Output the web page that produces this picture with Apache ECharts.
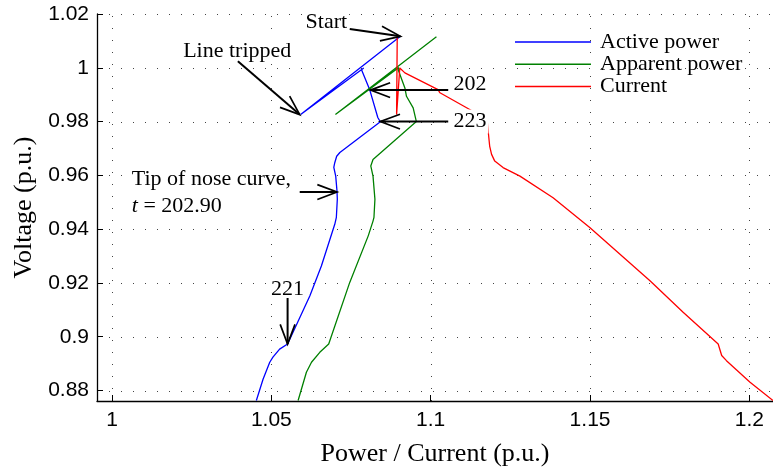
<!DOCTYPE html>
<html>
<head>
<meta charset="utf-8">
<script src="https://cdn.jsdelivr.net/npm/echarts@6/dist/echarts.min.js"></script>
<style>
html,body{margin:0;padding:0;background:#fff;}
#chart{width:773px;height:472px;}
</style>
</head>
<body>
<div id="chart"></div>
<script>
// ---- data ----
const seriesNames = ['Active power', 'Apparent power', 'Current'];

const activeX = [1.0905, 1.0592, 1.0790, 1.0783, 1.0809, 1.0834, 1.0842, 1.0715, 1.0705, 1.0699, 1.0696, 1.0702, 1.0706, 1.0707, 1.0704, 1.0699, 1.0657, 1.0621, 1.0551, 1.0526, 1.0505, 1.0495, 1.0474, 1.0453];
const activeY = [1.0117, 0.9826, 0.9999, 0.9993, 0.9917, 0.9815, 0.9799, 0.9685, 0.9671, 0.9647, 0.9630, 0.9597, 0.9542, 0.9511, 0.9444, 0.9418, 0.9263, 0.9152, 0.8973, 0.8954, 0.8924, 0.8905, 0.8842, 0.8763];

const apparentX = [1.1018, 1.0701, 1.0900, 1.0898, 1.0919, 1.0924, 1.0945, 1.0955, 1.0819, 1.0812, 1.0819, 1.0825, 1.0822, 1.0819, 1.0804, 1.0746, 1.0680, 1.0652, 1.0626, 1.0610, 1.0584];
const apparentY = [1.0115, 0.9826, 1.0001, 0.9993, 0.9925, 0.9894, 0.9851, 0.9800, 0.9659, 0.9635, 0.9597, 0.9511, 0.9444, 0.9430, 0.9375, 0.9202, 0.8973, 0.8942, 0.8905, 0.8868, 0.8763];

const currentX = [1.0895, 1.0893, 1.0903, 1.0919, 1.1023, 1.1029, 1.1128, 1.1177, 1.1185, 1.1191, 1.1201, 1.1227, 1.1280, 1.1384, 1.1499, 1.1688, 1.1792, 1.1902, 1.1913, 1.1928, 1.2002, 1.2074];
const currentY = [1.0116, 0.9826, 0.9999, 0.9981, 0.9919, 0.9907, 0.9841, 0.9805, 0.9709, 0.9678, 0.9653, 0.9629, 0.9597, 0.9517, 0.9406, 0.9208, 0.9091, 0.8973, 0.8930, 0.8911, 0.8831, 0.8763];

// annotation arrows: [fromX, fromY, toX, toY]
const arrows = [
  [1.0746, 1.0144, 1.0905, 1.0117],  // Start
  [1.0395, 1.0024, 1.0589, 0.9826],  // Line tripped
  [1.1055, 0.9917, 1.0811, 0.9917],  // 202
  [1.1055, 0.9800, 1.0842, 0.9800],  // 223
  [1.0589, 0.9538, 1.0706, 0.9538],  // tip of nose
  [1.0551, 0.9144, 1.0551, 0.8973]   // 221
];

// annotation labels
const labelText  = ['Start', 'Line tripped', '202', '223', 'Tip of nose curve,', '{i|t} = 202.90', '221'];
const labelX     = [1.0744, 1.0393, 1.1065, 1.1065, 1.0056, 1.0056, 1.0551];
const labelY     = [1.0171, 1.0061, 0.9938, 0.9800, 0.9585, 0.9486, 0.9177];
const labelAlign = ['right', 'center', 'left', 'left', 'left', 'left', 'center'];

const xTicks = [1, 1.05, 1.1, 1.15, 1.2];
const yTicks = [0.88, 0.9, 0.92, 0.94, 0.96, 0.98, 1, 1.02];
const xLabels = ['1', '1.05', '1.1', '1.15', '1.2'];
const yLabels = ['0.88', '0.9', '0.92', '0.94', '0.96', '0.98', '1', '1.02'];

const X_MIN = 0.9953, X_MAX = 1.2074, Y_MIN = 0.8761, Y_MAX = 1.02;

// ---- chart ----
const zip = (xs, ys) => xs.map((x, i) => [x, ys[i]]);
const SERIF = '"Liberation Serif", "Times New Roman", serif';
const SANS = '"Liberation Sans", Arial, sans-serif';

function renderArrow(params, api) {
  const p1 = api.coord([api.value(0), api.value(1)]);
  const p2 = api.coord([api.value(2), api.value(3)]);
  const ang = Math.atan2(p2[1] - p1[1], p2[0] - p1[0]);
  const L = 21, a = 0.36;
  const w1 = [p2[0] - L * Math.cos(ang - a), p2[1] - L * Math.sin(ang - a)];
  const w2 = [p2[0] - L * Math.cos(ang + a), p2[1] - L * Math.sin(ang + a)];
  return {
    type: 'group',
    children: [
      { type: 'line', shape: { x1: p1[0], y1: p1[1], x2: p2[0], y2: p2[1] }, style: { stroke: '#000', lineWidth: 2 } },
      { type: 'polyline', shape: { points: [w1, p2, w2] }, style: { stroke: '#000', lineWidth: 1.7, fill: null } }
    ]
  };
}

function renderLabel(params, api) {
  const p = api.coord([api.value(0), api.value(1)]);
  const i = params.dataIndex;
  return {
    type: 'text',
    x: p[0], y: p[1],
    style: {
      text: labelText[i],
      align: labelAlign[i],
      verticalAlign: 'middle',
      fontFamily: SERIF,
      fontSize: 22,
      fill: '#000',
      backgroundColor: '#fff',
      padding: [1, 2],
      rich: { i: { fontStyle: 'italic', fontFamily: SERIF, fontSize: 22, fill: '#000' } }
    }
  };
}

const dotted = { stroke: '#444', lineWidth: 1, lineDash: [1, 11] };
function renderVGrid(params, api) {
  const a = api.coord([api.value(0), Y_MIN]);
  const b = api.coord([api.value(0), Y_MAX]);
  return { type: 'line', shape: { x1: Math.round(a[0]) + 0.5, y1: a[1], x2: Math.round(b[0]) + 0.5, y2: b[1] }, style: dotted };
}
function renderHGrid(params, api) {
  const a = api.coord([X_MIN, api.value(0)]);
  const b = api.coord([X_MAX, api.value(0)]);
  return { type: 'line', shape: { x1: a[0], y1: Math.round(a[1]) + 0.5, x2: b[0], y2: Math.round(b[1]) + 0.5 }, style: dotted };
}

const chart = echarts.init(document.getElementById('chart'), null, { renderer: 'canvas' });
chart.setOption({
  animation: false,
  backgroundColor: '#fff',
  grid: { left: 97, right: 0, top: 14, bottom: 70, containLabel: false },
  legend: {
    orient: 'vertical',
    left: 515, top: 31, padding: 0,
    icon: 'rect',
    itemWidth: 76, itemHeight: 1.5, itemGap: 0.3,
    textStyle: { fontFamily: SERIF, fontSize: 22, lineHeight: 21, color: '#000', padding: [0, 0, 0, 4] },
    data: seriesNames
  },
  xAxis: {
    type: 'value',
    min: X_MIN, max: X_MAX,
    name: 'Power / Current (p.u.)',
    nameLocation: 'middle', nameGap: 40,
    nameTextStyle: { fontFamily: SERIF, fontSize: 26, color: '#000' },
    axisLine: { show: true, onZero: false, lineStyle: { color: '#000', width: 1.3 } },
    axisTick: { show: true, inside: true, length: 6, lineStyle: { color: '#000' }, customValues: xTicks },
    axisLabel: { margin: 9, fontFamily: SANS, fontSize: 21, color: '#000', customValues: xTicks,
      formatter: v => { const i = xTicks.findIndex(t => Math.abs(t - v) < 1e-6); return i >= 0 ? xLabels[i] : ''; } },
    splitLine: { show: false }
  },
  yAxis: {
    type: 'value',
    min: Y_MIN, max: Y_MAX,
    name: 'Voltage (p.u.)',
    nameLocation: 'middle', nameGap: 58,
    nameTextStyle: { fontFamily: SERIF, fontSize: 26, color: '#000' },
    axisLine: { show: true, onZero: false, lineStyle: { color: '#000', width: 1.3 } },
    axisTick: { show: true, inside: true, length: 6, lineStyle: { color: '#000' }, customValues: yTicks },
    axisLabel: { margin: 8, fontFamily: SANS, fontSize: 21, color: '#000', customValues: yTicks,
      formatter: v => { const i = yTicks.findIndex(t => Math.abs(t - v) < 1e-6); return i >= 0 ? yLabels[i] : ''; } },
    splitLine: { show: false }
  },
  series: [
    { type: 'custom', renderItem: renderVGrid, data: xTicks.map(v => [v]), encode: { x: 0 }, silent: true, z: 0 },
    { type: 'custom', renderItem: renderHGrid, data: yTicks.map(v => [v]), encode: { y: 0 }, silent: true, z: 0 },
    { name: seriesNames[0], type: 'line', data: zip(activeX, activeY), showSymbol: false, symbol: 'none',
      lineStyle: { color: '#0000ff', width: 1.3 }, itemStyle: { color: '#0000ff' }, z: 2 },
    { name: seriesNames[1], type: 'line', data: zip(apparentX, apparentY), showSymbol: false, symbol: 'none',
      lineStyle: { color: '#008000', width: 1.3 }, itemStyle: { color: '#008000' }, z: 2 },
    { name: seriesNames[2], type: 'line', data: zip(currentX, currentY), showSymbol: false, symbol: 'none',
      lineStyle: { color: '#ff0000', width: 1.3 }, itemStyle: { color: '#ff0000' }, z: 2 },
    { type: 'custom', renderItem: renderLabel, data: zip(labelX, labelY), encode: { x: 0, y: 1 }, clip: false, z: 3, silent: true },
    { type: 'custom', renderItem: renderArrow, data: arrows, encode: { x: [0, 2], y: [1, 3] }, clip: false, z: 4, silent: true }
  ]
});
</script>
</body>
</html>
